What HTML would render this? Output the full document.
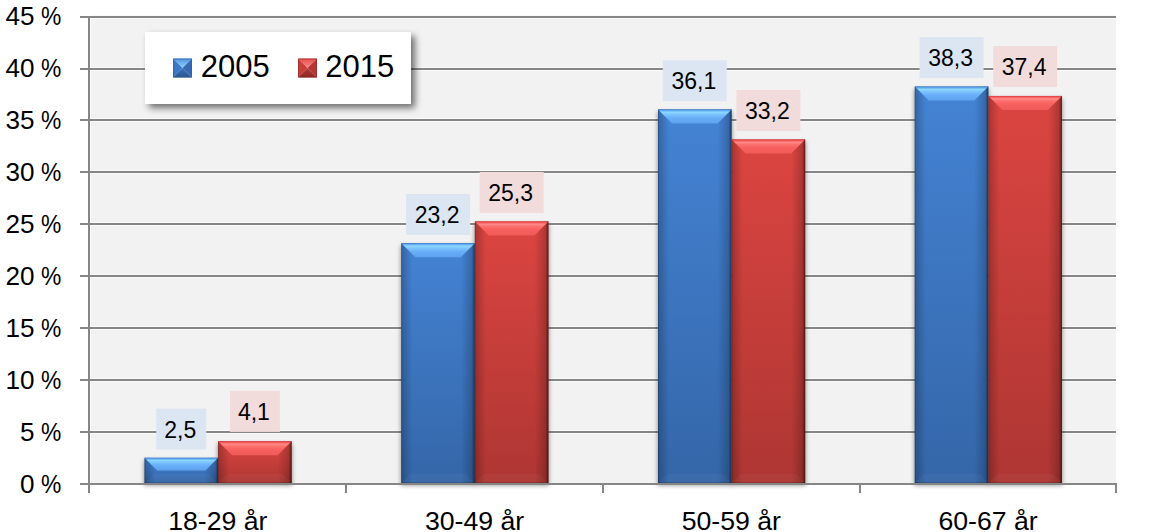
<!DOCTYPE html><html><head><meta charset="utf-8"><style>html,body{margin:0;padding:0;background:#fff;width:1151px;height:532px;overflow:hidden}svg{display:block}text{font-family:"Liberation Sans",sans-serif;fill:#000}</style></head><body>
<svg width="1151" height="532" viewBox="0 0 1151 532">
<defs>
<linearGradient id="bf" x1="0" y1="0" x2="0" y2="1"><stop offset="0" stop-color="#4483d4"/><stop offset="1" stop-color="#3466a8"/></linearGradient>
<linearGradient id="rf" x1="0" y1="0" x2="0" y2="1"><stop offset="0" stop-color="#dc4541"/><stop offset="1" stop-color="#ae3633"/></linearGradient>
<linearGradient id="sd" x1="0" y1="0" x2="1" y2="0">
<stop offset="0" stop-color="#000" stop-opacity="0.42"/>
<stop offset="0.02" stop-color="#000" stop-opacity="0.2"/>
<stop offset="0.15" stop-color="#000" stop-opacity="0"/>
<stop offset="0.81" stop-color="#000" stop-opacity="0"/>
<stop offset="0.96" stop-color="#000" stop-opacity="0.2"/>
<stop offset="0.98" stop-color="#000" stop-opacity="0.4"/>
<stop offset="1" stop-color="#000" stop-opacity="0.62"/>
</linearGradient>
<linearGradient id="bt" gradientUnits="objectBoundingBox" x1="0" y1="0" x2="0" y2="1"><stop offset="0" stop-color="#3c78c6"/><stop offset="0.07" stop-color="#5aa4f0"/><stop offset="0.2" stop-color="#8cd8ff"/><stop offset="0.35" stop-color="#7cc6ff"/><stop offset="0.6" stop-color="#68aef8"/><stop offset="1" stop-color="#5ea2ee"/></linearGradient>
<linearGradient id="rt" gradientUnits="objectBoundingBox" x1="0" y1="0" x2="0" y2="1"><stop offset="0" stop-color="#d43c3c"/><stop offset="0.07" stop-color="#f05050"/><stop offset="0.2" stop-color="#ff8c8a"/><stop offset="0.34" stop-color="#fc7270"/><stop offset="0.55" stop-color="#f76260"/><stop offset="1" stop-color="#f05a58"/></linearGradient>
<filter id="sh" x="-10%" y="-30%" width="130%" height="180%"><feGaussianBlur in="SourceAlpha" stdDeviation="3.5"/><feOffset dx="4" dy="4"/><feComponentTransfer><feFuncA type="linear" slope="0.55"/></feComponentTransfer><feMerge><feMergeNode/><feMergeNode in="SourceGraphic"/></feMerge></filter>
<filter id="bsh" filterUnits="userSpaceOnUse" x="0" y="0" width="1151" height="532"><feGaussianBlur stdDeviation="2.2"/></filter>
</defs>
<rect x="91" y="18" width="1025" height="465" fill="#f2f2f2"/>
<rect x="91" y="430" width="1025" height="4" fill="#fafafa"/><rect x="80" y="431" width="1036" height="2" fill="#868686"/>
<rect x="91" y="378" width="1025" height="4" fill="#fafafa"/><rect x="80" y="379" width="1036" height="2" fill="#868686"/>
<rect x="91" y="326" width="1025" height="4" fill="#fafafa"/><rect x="80" y="327" width="1036" height="2" fill="#868686"/>
<rect x="91" y="274" width="1025" height="4" fill="#fafafa"/><rect x="80" y="275" width="1036" height="2" fill="#868686"/>
<rect x="91" y="222" width="1025" height="4" fill="#fafafa"/><rect x="80" y="223" width="1036" height="2" fill="#868686"/>
<rect x="91" y="170" width="1025" height="4" fill="#fafafa"/><rect x="80" y="171" width="1036" height="2" fill="#868686"/>
<rect x="91" y="118" width="1025" height="4" fill="#fafafa"/><rect x="80" y="119" width="1036" height="2" fill="#868686"/>
<rect x="91" y="67" width="1025" height="4" fill="#fafafa"/><rect x="80" y="68" width="1036" height="2" fill="#868686"/>
<rect x="91" y="15" width="1025" height="4" fill="#fafafa"/><rect x="80" y="16" width="1036" height="2" fill="#868686"/>
<rect x="88" y="16" width="2" height="477" fill="#868686"/>
<rect x="144" y="460.33" width="74.6" height="25.17" fill="#000" fill-opacity="0.4" filter="url(#bsh)"/><rect x="217.6" y="443.74" width="74.6" height="41.76" fill="#000" fill-opacity="0.4" filter="url(#bsh)"/>
<rect x="400.75" y="245.68" width="74.6" height="239.82" fill="#000" fill-opacity="0.4" filter="url(#bsh)"/><rect x="474.35" y="223.9" width="74.6" height="261.6" fill="#000" fill-opacity="0.4" filter="url(#bsh)"/>
<rect x="657.5" y="111.9" width="74.6" height="373.6" fill="#000" fill-opacity="0.4" filter="url(#bsh)"/><rect x="731.1" y="141.98" width="74.6" height="343.52" fill="#000" fill-opacity="0.4" filter="url(#bsh)"/>
<rect x="914.25" y="89.09" width="74.6" height="396.41" fill="#000" fill-opacity="0.4" filter="url(#bsh)"/><rect x="987.85" y="98.42" width="74.6" height="387.08" fill="#000" fill-opacity="0.4" filter="url(#bsh)"/>
<rect x="80" y="483" width="1036" height="2" fill="#868686"/>
<rect x="345" y="483" width="2" height="10" fill="#868686"/>
<rect x="602" y="483" width="2" height="10" fill="#868686"/>
<rect x="859" y="483" width="2" height="10" fill="#868686"/>
<rect x="1115" y="483" width="2" height="10" fill="#868686"/>
<rect x="144.5" y="457.83" width="73.6" height="25.17" fill="url(#bf)"/><rect x="144.5" y="457.83" width="73.6" height="25.17" fill="url(#sd)"/><polygon points="144.5,483 153.5,474 209.1,474 218.1,483" fill="#fff" fill-opacity="0.035"/><rect x="144.5" y="482" width="73.6" height="1" fill="#000" fill-opacity="0.15"/><polygon points="144.5,457.83 218.1,457.83 205.52,470.42 157.08,470.42" fill="url(#bt)"/>
<rect x="218.1" y="441.24" width="73.6" height="41.76" fill="url(#rf)"/><rect x="218.1" y="441.24" width="73.6" height="41.76" fill="url(#sd)"/><polygon points="218.1,483 227.1,474 282.7,474 291.7,483" fill="#fff" fill-opacity="0.035"/><rect x="218.1" y="482" width="73.6" height="1" fill="#000" fill-opacity="0.15"/><polygon points="218.1,441.24 291.7,441.24 277.7,455.24 232.1,455.24" fill="url(#rt)"/>
<rect x="156.3" y="408.6" width="50" height="41" fill="#dce6f2"/><text x="180.3" y="437.8" font-size="23" text-anchor="middle">2,5</text>
<rect x="229.9" y="390.9" width="50" height="41" fill="#f2dcdb"/><text x="253.9" y="420.1" font-size="23" text-anchor="middle">4,1</text>
<text transform="translate(217.78,530) scale(1.025,1)" font-size="26" text-anchor="middle">18-29 år</text>
<rect x="401.25" y="243.18" width="73.6" height="239.82" fill="url(#bf)"/><rect x="401.25" y="243.18" width="73.6" height="239.82" fill="url(#sd)"/><polygon points="401.25,483 410.25,474 465.85,474 474.85,483" fill="#fff" fill-opacity="0.035"/><rect x="401.25" y="482" width="73.6" height="1" fill="#000" fill-opacity="0.15"/><polygon points="401.25,243.18 474.85,243.18 460.85,257.18 415.25,257.18" fill="url(#bt)"/>
<rect x="474.85" y="221.4" width="73.6" height="261.6" fill="url(#rf)"/><rect x="474.85" y="221.4" width="73.6" height="261.6" fill="url(#sd)"/><polygon points="474.85,483 483.85,474 539.45,474 548.45,483" fill="#fff" fill-opacity="0.035"/><rect x="474.85" y="482" width="73.6" height="1" fill="#000" fill-opacity="0.15"/><polygon points="474.85,221.4 548.45,221.4 534.45,235.4 488.85,235.4" fill="url(#rt)"/>
<rect x="406.05" y="194" width="64" height="41" fill="#dce6f2"/><text x="437.05" y="223.2" font-size="23" text-anchor="middle">23,2</text>
<rect x="479.65" y="172" width="64" height="41" fill="#f2dcdb"/><text x="510.65" y="201.2" font-size="23" text-anchor="middle">25,3</text>
<text transform="translate(474.52,530) scale(1.025,1)" font-size="26" text-anchor="middle">30-49 år</text>
<rect x="658" y="109.4" width="73.6" height="373.6" fill="url(#bf)"/><rect x="658" y="109.4" width="73.6" height="373.6" fill="url(#sd)"/><polygon points="658,483 667,474 722.6,474 731.6,483" fill="#fff" fill-opacity="0.035"/><rect x="658" y="482" width="73.6" height="1" fill="#000" fill-opacity="0.15"/><polygon points="658,109.4 731.6,109.4 717.6,123.4 672,123.4" fill="url(#bt)"/>
<rect x="731.6" y="139.48" width="73.6" height="343.52" fill="url(#rf)"/><rect x="731.6" y="139.48" width="73.6" height="343.52" fill="url(#sd)"/><polygon points="731.6,483 740.6,474 796.2,474 805.2,483" fill="#fff" fill-opacity="0.035"/><rect x="731.6" y="482" width="73.6" height="1" fill="#000" fill-opacity="0.15"/><polygon points="731.6,139.48 805.2,139.48 791.2,153.48 745.6,153.48" fill="url(#rt)"/>
<rect x="662.8" y="60.2" width="64" height="41" fill="#dce6f2"/><text x="693.8" y="89.4" font-size="23" text-anchor="middle">36,1</text>
<rect x="736.4" y="90" width="64" height="41" fill="#f2dcdb"/><text x="767.4" y="119.2" font-size="23" text-anchor="middle">33,2</text>
<text transform="translate(731.27,530) scale(1.025,1)" font-size="26" text-anchor="middle">50-59 år</text>
<rect x="914.75" y="86.59" width="73.6" height="396.41" fill="url(#bf)"/><rect x="914.75" y="86.59" width="73.6" height="396.41" fill="url(#sd)"/><polygon points="914.75,483 923.75,474 979.35,474 988.35,483" fill="#fff" fill-opacity="0.035"/><rect x="914.75" y="482" width="73.6" height="1" fill="#000" fill-opacity="0.15"/><polygon points="914.75,86.59 988.35,86.59 974.35,100.59 928.75,100.59" fill="url(#bt)"/>
<rect x="988.35" y="95.92" width="73.6" height="387.08" fill="url(#rf)"/><rect x="988.35" y="95.92" width="73.6" height="387.08" fill="url(#sd)"/><polygon points="988.35,483 997.35,474 1052.95,474 1061.95,483" fill="#fff" fill-opacity="0.035"/><rect x="988.35" y="482" width="73.6" height="1" fill="#000" fill-opacity="0.15"/><polygon points="988.35,95.92 1061.95,95.92 1047.95,109.92 1002.35,109.92" fill="url(#rt)"/>
<rect x="919.55" y="37.1" width="64" height="41" fill="#dce6f2"/><text x="950.55" y="66.3" font-size="23" text-anchor="middle">38,3</text>
<rect x="993.15" y="46" width="64" height="41" fill="#f2dcdb"/><text x="1024.15" y="75.2" font-size="23" text-anchor="middle">37,4</text>
<text transform="translate(988.02,530) scale(1.025,1)" font-size="26" text-anchor="middle">60-67 år</text>
<text transform="translate(34.5,493) scale(1.045,1)" font-size="25" text-anchor="end">0</text><text transform="translate(61.3,493) scale(0.914,1)" font-size="25" text-anchor="end">%</text>
<text transform="translate(34.5,441) scale(1.045,1)" font-size="25" text-anchor="end">5</text><text transform="translate(61.3,441) scale(0.914,1)" font-size="25" text-anchor="end">%</text>
<text transform="translate(34.5,389) scale(1.045,1)" font-size="25" text-anchor="end">10</text><text transform="translate(61.3,389) scale(0.914,1)" font-size="25" text-anchor="end">%</text>
<text transform="translate(34.5,337) scale(1.045,1)" font-size="25" text-anchor="end">15</text><text transform="translate(61.3,337) scale(0.914,1)" font-size="25" text-anchor="end">%</text>
<text transform="translate(34.5,285) scale(1.045,1)" font-size="25" text-anchor="end">20</text><text transform="translate(61.3,285) scale(0.914,1)" font-size="25" text-anchor="end">%</text>
<text transform="translate(34.5,233) scale(1.045,1)" font-size="25" text-anchor="end">25</text><text transform="translate(61.3,233) scale(0.914,1)" font-size="25" text-anchor="end">%</text>
<text transform="translate(34.5,181) scale(1.045,1)" font-size="25" text-anchor="end">30</text><text transform="translate(61.3,181) scale(0.914,1)" font-size="25" text-anchor="end">%</text>
<text transform="translate(34.5,129) scale(1.045,1)" font-size="25" text-anchor="end">35</text><text transform="translate(61.3,129) scale(0.914,1)" font-size="25" text-anchor="end">%</text>
<text transform="translate(34.5,77) scale(1.045,1)" font-size="25" text-anchor="end">40</text><text transform="translate(61.3,77) scale(0.914,1)" font-size="25" text-anchor="end">%</text>
<text transform="translate(34.5,25) scale(1.045,1)" font-size="25" text-anchor="end">45</text><text transform="translate(61.3,25) scale(0.914,1)" font-size="25" text-anchor="end">%</text>
<rect x="145" y="32" width="266" height="72" fill="#fff" filter="url(#sh)"/>
<defs><linearGradient id="mbt" x1="0" y1="0" x2="0" y2="1"><stop offset="0" stop-color="#4f92e0"/><stop offset="1" stop-color="#8fd4ff"/></linearGradient>
<linearGradient id="mbb" x1="0" y1="0" x2="0" y2="1"><stop offset="0" stop-color="#3a70b8"/><stop offset="1" stop-color="#2b5590"/></linearGradient>
<linearGradient id="mrt" x1="0" y1="0" x2="0" y2="1"><stop offset="0" stop-color="#e24c4a"/><stop offset="1" stop-color="#ff8a88"/></linearGradient>
<linearGradient id="mrb" x1="0" y1="0" x2="0" y2="1"><stop offset="0" stop-color="#b83a38"/><stop offset="1" stop-color="#8a2624"/></linearGradient></defs>
<polygon points="173,58.5 192,58.5 182.5,68" fill="url(#mbt)"/><polygon points="173,58.5 182.5,68 173,77.5" fill="#3a77c6"/><polygon points="192,58.5 182.5,68 192,77.5" fill="#3569b2"/><polygon points="173,77.5 182.5,68 192,77.5" fill="url(#mbb)"/><rect x="173.5" y="59" width="18" height="18" fill="none" stroke="#2d5b98" stroke-width="1" stroke-opacity="0.6"/>
<text x="200.8" y="77" font-size="31">2005</text>
<polygon points="298,58.5 317,58.5 307.5,68" fill="url(#mrt)"/><polygon points="298,58.5 307.5,68 298,77.5" fill="#c83c3a"/><polygon points="317,58.5 307.5,68 317,77.5" fill="#b53634"/><polygon points="298,77.5 307.5,68 317,77.5" fill="url(#mrb)"/><rect x="298.5" y="59" width="18" height="18" fill="none" stroke="#8e2826" stroke-width="1" stroke-opacity="0.6"/>
<text x="325.2" y="77" font-size="31">2015</text>
</svg></body></html>
